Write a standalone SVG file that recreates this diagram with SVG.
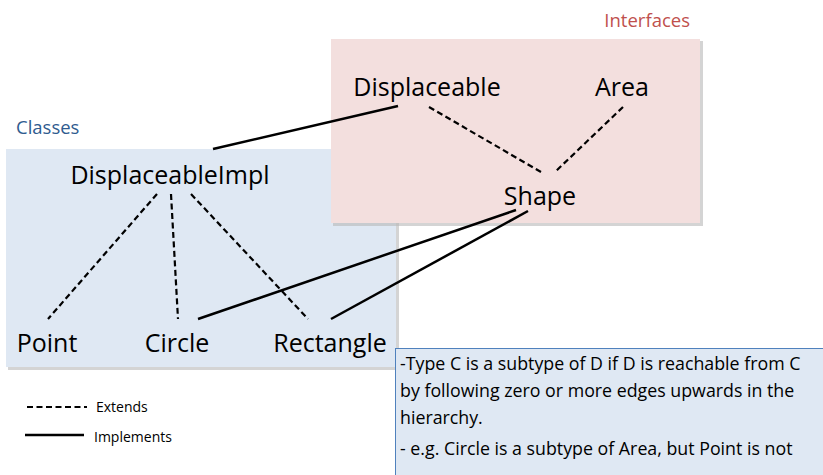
<svg xmlns="http://www.w3.org/2000/svg" width="823" height="475" viewBox="0 0 823 475">
  <style>
    text { font-family: "Open Sans", "Noto Sans", "Liberation Sans", sans-serif; fill: #000; }
    .node { font-size: 25px; }
    .title { font-size: 18.5px; }
    .note { font-size: 17.8px; }
    .legend { font-size: 14px; }
    .impl { stroke: #000; stroke-width: 2.5; fill: none; }
    .ext { stroke: #000; stroke-width: 2.2; fill: none; stroke-dasharray: 6 3.5; }
    .shadow { fill: #b8b8b8; opacity: 0.6; }
  </style>

  <!-- Classes panel -->
  <g id="classes-panel">
    <rect class="shadow" x="8" y="151" width="391" height="219"/>
    <rect x="6" y="149" width="390" height="218" fill="#dfe8f3"/>
    <text class="title" x="16" y="134" style="fill:#2f5b8f">Classes</text>
  </g>

  <!-- Interfaces panel -->
  <g id="interfaces-panel">
    <rect class="shadow" x="333" y="41" width="370" height="185"/>
    <rect x="331" y="39" width="369" height="184" fill="#f3dfde"/>
    <text class="title" x="690" y="27" text-anchor="end" style="fill:#c0504d">Interfaces</text>
  </g>

  <!-- Connectors -->
  <g id="connectors">
    <line class="impl" x1="213" y1="149" x2="398" y2="106"/>
    <line class="ext" x1="429" y1="107" x2="541" y2="172"/>
    <line class="ext" x1="623" y1="107" x2="555" y2="172"/>
    <line class="ext" x1="157" y1="194" x2="48" y2="319"/>
    <line class="ext" x1="171" y1="194" x2="178" y2="319"/>
    <line class="ext" x1="191" y1="194" x2="308" y2="319"/>
    <line class="impl" x1="516" y1="210" x2="198" y2="319"/>
    <line class="impl" x1="528" y1="211" x2="331" y2="319"/>
  </g>

  <!-- Nodes -->
  <g id="node-displaceable"><text class="node" x="427" y="96" text-anchor="middle">Displaceable</text></g>
  <g id="node-area"><text class="node" x="622" y="96" text-anchor="middle">Area</text></g>
  <g id="node-shape"><text class="node" x="540" y="205" text-anchor="middle">Shape</text></g>
  <g id="node-displaceableimpl"><text class="node" x="170" y="184" text-anchor="middle">DisplaceableImpl</text></g>
  <g id="node-point"><text class="node" x="47" y="352" text-anchor="middle">Point</text></g>
  <g id="node-circle"><text class="node" x="177" y="352" text-anchor="middle">Circle</text></g>
  <g id="node-rectangle"><text class="node" x="330" y="352" text-anchor="middle">Rectangle</text></g>

  <!-- Explanation note -->
  <g id="note">
    <rect x="395.5" y="348.5" width="440" height="140" fill="#dfe8f3" stroke="#4f81bd" stroke-width="1"/>
    <text class="note" x="400" y="370">-Type C is a subtype of D if D is reachable from C</text>
    <text class="note" x="400" y="397">by following zero or more edges upwards in the</text>
    <text class="note" x="400" y="424">hierarchy.</text>
    <text class="note" x="400" y="455">- e.g. Circle is a subtype of Area, but Point is not</text>
  </g>

  <!-- Legend -->
  <g id="legend">
    <line class="ext" x1="27" y1="407" x2="87" y2="407"/>
    <text class="legend" x="96" y="412">Extends</text>
    <line class="impl" x1="25" y1="435" x2="84" y2="435"/>
    <text class="legend" x="94" y="442">Implements</text>
  </g>
</svg>
